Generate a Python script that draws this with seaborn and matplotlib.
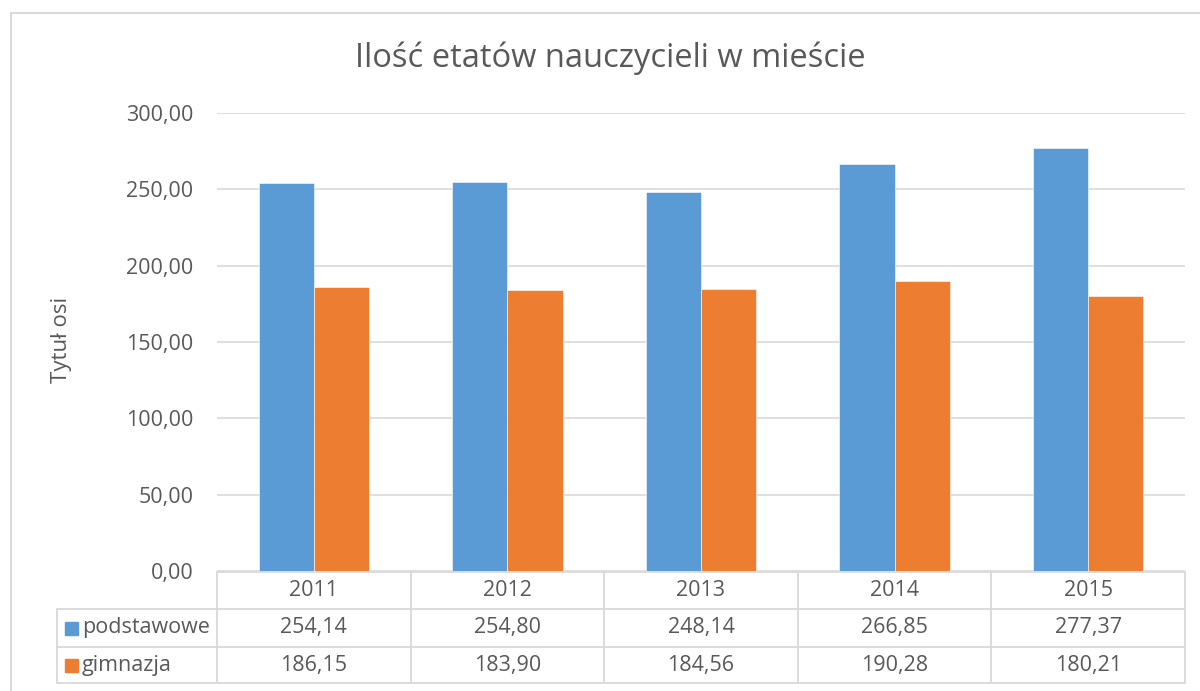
import pandas as pd
import matplotlib.pyplot as plt
import seaborn as sns
from matplotlib.patches import Rectangle

# data
years = ['2011', '2012', '2013', '2014', '2015']
podstawowe = [254.14, 254.80, 248.14, 266.85, 277.37]
gimnazja = [186.15, 183.90, 184.56, 190.28, 180.21]
series_names = ['podstawowe', 'gimnazja']
colors = ['#5B9BD5', '#ED7D31']
y_ticks = [0, 50, 100, 150, 200, 250, 300]

df = pd.DataFrame({'rok': years * 2,
                   'typ': ['podstawowe'] * 5 + ['gimnazja'] * 5,
                   'etaty': podstawowe + gimnazja})

def pl(v):
    return f'{v:.2f}'.replace('.', ',')

sns.set_theme(style='white')
plt.rcParams['font.family'] = ['Open Sans', 'DejaVu Sans']
txt = '#595959'
grid = '#D9D9D9'
fs = 15.5

W, H = 1200, 691
fig = plt.figure(figsize=(12, 6.91), dpi=100)
ax = fig.add_axes([217 / W, 1 - 571 / H, (1185 - 217) / W, (571 - 113) / H])

sns.barplot(data=df, x='rok', y='etaty', hue='typ', hue_order=series_names,
            palette=colors, width=0.57, gap=0, saturation=1, ax=ax,
            edgecolor='white', linewidth=0.4, legend=False, zorder=3)

ax.set_xlim(-0.5, 4.5)
ax.set_ylim(0, 300)
ax.set_yticks(y_ticks)
ax.set_yticklabels([pl(v) for v in y_ticks], fontsize=fs, color=txt)
ax.tick_params(axis='y', length=0, pad=17)
ax.set_xticks([])
ax.set_xlabel('')
ax.set_ylabel('')
ax.grid(axis='y', color=grid, linewidth=1.2, zorder=0)
for s in ax.spines.values():
    s.set_visible(False)

fig.text(61 / W, 1 - 340 / H, 'Tytuł osi', rotation=90, ha='center', va='center',
         fontsize=16, color=txt)
fig.text(610 / W, 1 - 58 / H, 'Ilość etatów nauczycieli w mieście', ha='center',
         va='center', fontsize=23.5, color=txt)

# chart border
fig.patches.append(Rectangle((11 / W, -0.1), 1.2, 1 - 13 / H + 0.1,
                             transform=fig.transFigure, fill=False,
                             edgecolor=grid, linewidth=1.5))

# data table under the axis
col_x = [217 + i * (1185 - 217) / 5 for i in range(6)]
row_y = [572, 609, 647, 683]
left_x = 57
lw = 1.3

def hline(y, x0, x1):
    fig.add_artist(plt.Line2D([x0 / W, x1 / W], [1 - y / H, 1 - y / H],
                              color=grid, linewidth=lw))

def vline(x, y0, y1):
    fig.add_artist(plt.Line2D([x / W, x / W], [1 - y0 / H, 1 - y1 / H],
                              color=grid, linewidth=lw))

hline(row_y[0], col_x[0], col_x[-1])
for y in row_y[1:]:
    hline(y, left_x, col_x[-1])
vline(left_x, row_y[1], row_y[3])
for x in col_x:
    vline(x, row_y[0], row_y[3])

for i, yr in enumerate(years):
    cx = (col_x[i] + col_x[i + 1]) / 2
    fig.text(cx / W, 1 - (row_y[0] + row_y[1]) / 2 / H, yr, ha='center',
             va='center', fontsize=fs, color=txt)
    for r, vals in enumerate([podstawowe, gimnazja]):
        cy = (row_y[r + 1] + row_y[r + 2]) / 2
        fig.text(cx / W, 1 - cy / H, pl(vals[i]), ha='center', va='center',
                 fontsize=fs, color=txt)

for r, name in enumerate(series_names):
    cy = (row_y[r + 1] + row_y[r + 2]) / 2
    fig.patches.append(Rectangle((65 / W, 1 - (cy + 6.5) / H), 13 / W, 13 / H,
                                 transform=fig.transFigure, color=colors[r]))
    fig.text(82 / W, 1 - cy / H, name, ha='left', va='center', fontsize=fs,
             color=txt)

fig.savefig('out.png', dpi=100)
